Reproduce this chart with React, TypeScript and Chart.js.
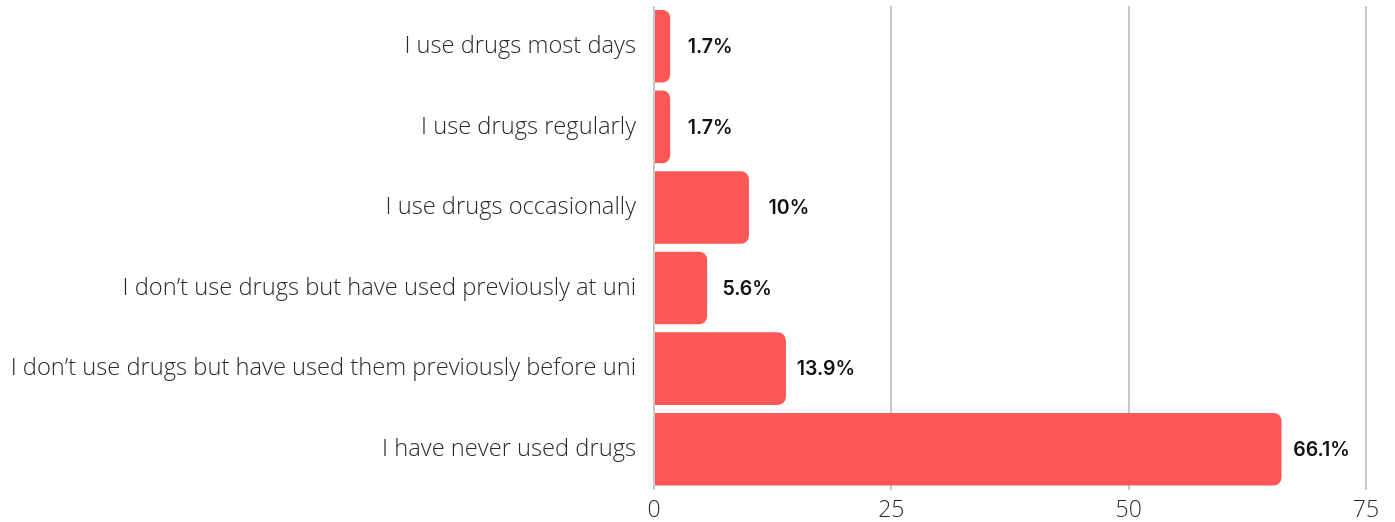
import React, { useEffect, useRef } from "react";
import { Chart, registerables } from "chart.js";

Chart.register(...registerables);

const categories = [
  "I use drugs most days",
  "I use drugs regularly",
  "I use drugs occasionally",
  "I don\u2019t use drugs but have used previously at uni",
  "I don\u2019t use drugs but have used them previously before uni",
  "I have never used drugs",
];
const values = [1.7, 1.7, 10, 5.6, 13.9, 66.1];
const valueLabels = ["1.7%", "1.7%", "10%", "5.6%", "13.9%", "66.1%"];
const xTicks = [0, 25, 50, 75];

const valueLabelPlugin = {
  id: "valueLabels",
  afterDatasetsDraw(chart: any) {
    const ctx = chart.ctx;
    const meta = chart.getDatasetMeta(0);
    ctx.save();
    ctx.font = "600 19.5px Inter, 'Open Sans', sans-serif";
    ctx.fillStyle = "#111111";
    ctx.textAlign = "center";
    ctx.textBaseline = "middle";
    meta.data.forEach((bar: any, i: number) => {
      ctx.fillText(valueLabels[i], bar.x + 40, bar.y + 1);
    });
    ctx.restore();
  },
};

export default function App() {
  const ref = useRef<HTMLCanvasElement | null>(null);
  useEffect(() => {
    if (!ref.current) return;
    const chart = new Chart(ref.current, {
      type: "bar",
      data: {
        labels: categories,
        datasets: [
          {
            data: values,
            backgroundColor: "#ff5757",
            borderRadius: 8,
            borderSkipped: "start",
            barPercentage: 0.9,
            categoryPercentage: 1,
          },
        ],
      },
      options: {
        indexAxis: "y",
        animation: false,
        responsive: true,
        maintainAspectRatio: false,
        layout: { padding: { top: 6, right: 29, left: 0, bottom: 0 } },
        plugins: { legend: { display: false }, tooltip: { enabled: false } },
        scales: {
          x: {
            min: 0,
            max: 75,
            afterBuildTicks: (axis: any) => {
              axis.ticks = xTicks.map((v) => ({ value: v }));
            },
            afterFit: (axis: any) => {
              axis.height = 32.5;
              axis.paddingLeft = 0;
              axis.paddingRight = 0;
            },
            grid: { color: "#c8c8c8", lineWidth: 2, drawTicks: false },
            border: { display: false },
            ticks: {
              color: "#2a2a2a",
              padding: 7,
              font: { family: "'Open Sans'", weight: "300", size: 23 },
            },
          },
          y: {
            afterFit: (axis: any) => {
              axis.width = 654;
              axis.paddingTop = 0;
              axis.paddingBottom = 0;
            },
            grid: { display: false },
            border: { display: false },
            ticks: {
              color: "#2a2a2a",
              padding: 10,
              font: { family: "'Open Sans'", weight: "300", size: 23.7, lineHeight: 1.0 },
            },
          },
        },
      },
      plugins: [valueLabelPlugin],
    });
    return () => chart.destroy();
  }, []);
  return (
    <div style={{ position: "fixed", left: 0, top: 0, width: 1395, height: 522, background: "#fff" }}>
      <canvas ref={ref} />
    </div>
  );
}
